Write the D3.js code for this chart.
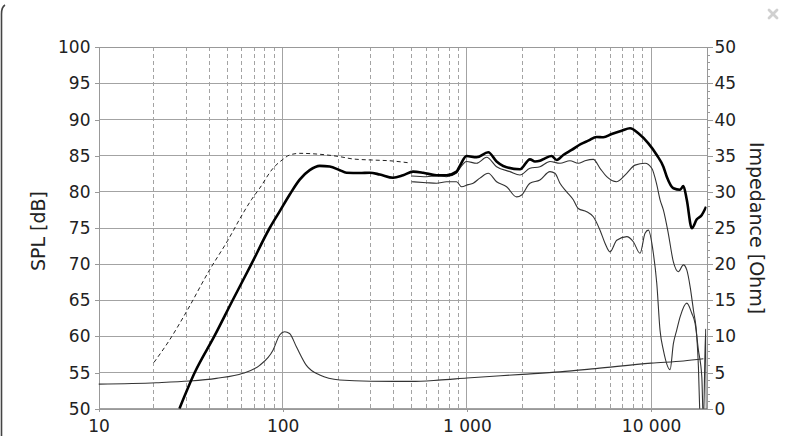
<!DOCTYPE html>
<html><head><meta charset="utf-8">
<script src="https://cdn.jsdelivr.net/npm/d3@7"></script>
<style>html,body{margin:0;padding:0;background:#fff;overflow:hidden}</style>
</head><body><svg id="c" width="786" height="436"></svg>
<script>
// ---- data ----
const splTicks = [50,55,60,65,70,75,80,85,90,95,100];
const impTicks = [0,5,10,15,20,25,30,35,40,45,50];
const freqMajor = [10,100,1000,10000];
const freqMajorLabels = ["10","100","1 000","10 000"];
const freqMinor = [20,30,40,50,60,70,80,90,200,300,400,500,600,700,800,900,2000,3000,4000,5000,6000,7000,8000,9000];
const yTitleLeft = "SPL [dB]";
const yTitleRight = "Impedance [Ohm]";

// on-axis SPL (thick)
const onAxisFreq = [27.5,33.3,42.5,53.5,67.6,85,96.3,109,123.7,140.2,158.9,180.1,204.1,221.9,262.1,297.1,336.7,397.7,450.7,510.8,578.8,684.5,775.6,879,916,996,1129,1306,1450,1575,1941,2200,2343,2493,2654,2886,3073,3337,3707,4148,4562,5069,5506,6115,6930,7689,8531,9667,10740,11664,12170,13219,14380,14980,15630,16641,17718,18862,19904];
const onAxisSpl  = [50,55,60,65,70,75,77.3,79.6,81.7,83.0,83.6,83.5,83.0,82.65,82.6,82.65,82.4,81.96,82.3,82.8,82.65,82.3,82.3,82.8,83.6,84.96,84.78,85.47,84.2,83.58,83.12,84.5,84.2,84.3,84.64,84.96,84.4,85.1,85.8,86.6,87.08,87.6,87.55,88.0,88.46,88.8,88.1,86.7,85.1,83.48,82.1,80.5,80.3,80.8,78.9,74.96,76.2,76.8,77.95];

// 30 deg off-axis (thin)
const off30Freq = [500.6,604,684.5,775.6,879,916,996,1129,1280,1450,1713,1941,2200,2493,2826,3202,3628,4025,4378,4859,5283,5744,6510,7378,8185,9277,10088,10740,11193,11664,12416,13219,14073,14983,15630,16293,16980,17718,18077,18465];
const off30Spl  = [82.2,82.1,82.2,82.1,82.6,83.26,84.2,83.95,84.78,83.48,82.8,82.33,83.26,83.48,84.2,83.95,84.3,83.95,84.3,84.5,83.26,82.1,81.4,82.57,83.7,83.95,83.26,81.0,78.9,77.5,74.2,70.3,68.95,69.9,69.2,66.9,63.65,60.0,55.8,48];

// 60 deg off-axis (thin)
const off60Freq = [500.6,604,684.5,775.6,879,936,1017,1082,1177,1306,1450,1643,1863,1983,2200,2493,2826,3008,3202,3482,3782,4025,4472,4859,5283,5623,5986,6510,7378,8013,8713,9277,9667,10292,10740,11193,11664,12686,13219,13793,14380,15630,16641,17340,18077,18862,19240,19790,20000];
const off60Spl  = [81.4,81.27,81.2,81.4,81.4,80.7,81.0,81.2,81.9,82.57,81.4,80.7,79.3,79.57,81.2,81.64,82.8,82.57,81.2,80.0,78.9,77.7,77.25,76.56,74.7,72.9,71.7,73.3,73.8,73.1,71.5,74.26,74.7,71.5,67.35,60.8,58.1,55.4,59.0,60.9,62.7,64.6,63.2,61.8,58.1,54.4,48,61.0,48];

// simulated / near-field SPL (dashed)
const nearFreq = [20,24.3,30.0,40.1,50.4,60.8,67.6,75,88.6,100.4,109,123.7,158.9,204.1,241,309.7,381.5,490];
const nearSpl  = [56.4,59.5,63.4,69.2,73.3,77.0,78.9,80.5,83.26,84.5,85.1,85.33,85.2,84.87,84.55,84.4,84.3,84.0];

// impedance (Ohm, right axis)
const impFreq = [10,20.6,31.2,43.6,60.8,75,88.6,96.3,102.5,109,118.7,134.5,158.9,204,300,500,700,1000,2000,3200,5000,10000,15000,19240];
const impOhm  = [3.4,3.6,3.83,4.2,4.9,6.0,8.1,10.2,10.65,10.4,8.57,6.0,4.66,3.97,3.8,3.78,3.95,4.25,4.75,5.1,5.55,6.3,6.6,6.9];

// ---- drawing ----
const svg = d3.select("#c");
const L = 98.5, R = 706.5, T = 47.3, B = 408.7;
const x = d3.scaleLog().domain([10,20000]).range([L,R]);
const y = d3.scaleLinear().domain([50,100]).range([B,T]);
const yR = d3.scaleLinear().domain([0,50]).range([B,T]);
const FONT = "'DejaVu Sans', Verdana, sans-serif";
const gridCol = "#a3a3a3";

svg.append("rect").attr("width",786).attr("height",436).attr("fill","#fff");

// outer frame fragment & close icon
svg.append("path").attr("d","M1.5,436 L1.5,14 Q1.5,7 5,5").attr("fill","none").attr("stroke","#444").attr("stroke-width",1.6);
const cx = svg.append("g").attr("stroke","#d0d0d0").attr("stroke-width",2.8).attr("stroke-linecap","round");
cx.append("line").attr("x1",769).attr("y1",10).attr("x2",777).attr("y2",18);
cx.append("line").attr("x1",777).attr("y1",10).attr("x2",769).attr("y2",18);

// minor vertical dashed grid
svg.append("g").selectAll("line").data(freqMinor).join("line")
  .attr("x1",d=>x(d)).attr("x2",d=>x(d)).attr("y1",T).attr("y2",B)
  .attr("stroke",gridCol).attr("stroke-width",1).attr("stroke-dasharray","4,3")
  .attr("shape-rendering","crispEdges");

// major vertical grid
svg.append("g").selectAll("line").data(freqMajor.slice(1)).join("line")
  .attr("x1",d=>x(d)).attr("x2",d=>x(d)).attr("y1",T).attr("y2",B)
  .attr("stroke",gridCol).attr("stroke-width",1).attr("shape-rendering","crispEdges");

// horizontal grid
svg.append("g").selectAll("line").data(splTicks).join("line")
  .attr("x1",L).attr("x2",R).attr("y1",d=>y(d)).attr("y2",d=>y(d))
  .attr("stroke",gridCol).attr("stroke-width",1).attr("shape-rendering","crispEdges");

function styleAxis(g){
  g.selectAll("path").attr("stroke","#999").attr("shape-rendering","crispEdges");
  g.selectAll("line").attr("stroke","#999").attr("shape-rendering","crispEdges");
  g.selectAll("text").attr("font-family",FONT).attr("font-size",17).attr("fill","#222");
}

// left axis
const gl = svg.append("g").attr("transform",`translate(${L},0)`)
  .call(d3.axisLeft(y).tickValues(splTicks).tickSize(4).tickPadding(4).tickSizeOuter(0).tickFormat(d3.format("d")));
styleAxis(gl);

// right axis major + minor
const minorImp = d3.range(0,51).filter(v=>v%5!==0);
const grm = svg.append("g").attr("transform",`translate(${R},0)`)
  .call(d3.axisRight(yR).tickValues(minorImp).tickSize(3).tickSizeOuter(0).tickFormat(""));
styleAxis(grm);
const gr = svg.append("g").attr("transform",`translate(${R},0)`)
  .call(d3.axisRight(yR).tickValues(impTicks).tickSize(6).tickPadding(2).tickSizeOuter(0).tickFormat(d3.format("d")));
styleAxis(gr);

// bottom axis
const gb = svg.append("g").attr("transform",`translate(0,${B})`)
  .call(d3.axisBottom(x).tickValues(freqMajor).tickSize(3).tickPadding(8).tickSizeOuter(0).tickFormat((d,i)=>freqMajorLabels[i]));
styleAxis(gb);

// top border
svg.append("line").attr("x1",L).attr("x2",R).attr("y1",T).attr("y2",T).attr("stroke","#999").attr("shape-rendering","crispEdges");

// titles
svg.append("text").attr("transform","translate(38,231) rotate(-90)")
  .attr("text-anchor","middle").attr("dominant-baseline","central")
  .attr("font-family",FONT).attr("font-size",19).attr("fill","#222").text(yTitleLeft);
svg.append("text").attr("transform","translate(757,228) rotate(90)")
  .attr("text-anchor","middle").attr("dominant-baseline","central")
  .attr("font-family",FONT).attr("font-size",19).attr("fill","#222").text(yTitleRight);

// curves
svg.append("clipPath").attr("id","pc").append("rect").attr("x",L).attr("y",T).attr("width",R-L).attr("height",B-T);
const plot = svg.append("g").attr("clip-path","url(#pc)");
const curve = d3.curveMonotoneX;
const lineL = d3.line().x(d=>x(d[0])).y(d=>y(d[1])).curve(curve);
const lineR = d3.line().x(d=>x(d[0])).y(d=>yR(d[1])).curve(curve);
const zip = (a,b)=>a.map((v,i)=>[v,b[i]]);

plot.append("path").datum(zip(impFreq,impOhm)).attr("d",lineR)
  .attr("fill","none").attr("stroke","#333").attr("stroke-width",1.1);
plot.append("path").datum(zip(nearFreq,nearSpl)).attr("d",lineL)
  .attr("fill","none").attr("stroke","#222").attr("stroke-width",1).attr("stroke-dasharray","4,3");
plot.append("path").datum(zip(off60Freq,off60Spl)).attr("d",lineL)
  .attr("fill","none").attr("stroke","#333").attr("stroke-width",1.1);
plot.append("path").datum(zip(off30Freq,off30Spl)).attr("d",lineL)
  .attr("fill","none").attr("stroke","#333").attr("stroke-width",1.1);
plot.append("path").datum(zip(onAxisFreq,onAxisSpl)).attr("d",lineL)
  .attr("fill","none").attr("stroke","#000").attr("stroke-width",2.6).attr("stroke-linejoin","round");
</script>
</body></html>
